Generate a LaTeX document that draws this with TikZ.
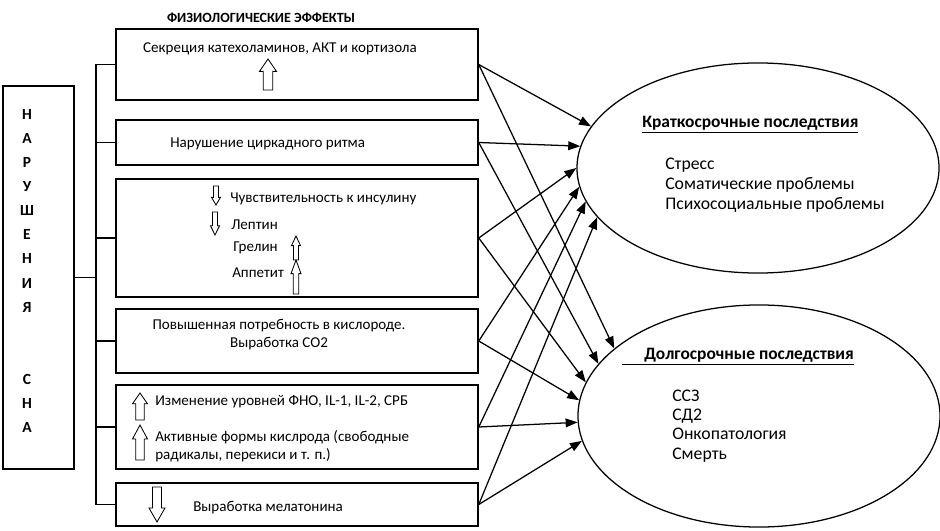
\documentclass[tikz,border=0pt]{standalone}
\usepackage{fontspec}
\setmainfont{Carlito}
\usetikzlibrary{arrows.meta, positioning, shapes.geometric}
\tikzset{
	effbox/.style={draw, line width=1pt, minimum width=9.05cm, inner sep=0pt},
	sleepbox/.style={draw, line width=1.3pt, minimum width=1.775cm,
		minimum height=9.575cm, inner sep=0pt},
	outcome/.style={draw, ellipse, line width=0.9pt, minimum width=9.05cm, inner sep=0pt},
	txt/.style={inner sep=0pt, font=\fontsize{10.7}{12.8}\selectfont},
	big/.style={inner sep=0pt, align=left, font=\fontsize{12.6}{14.2}\selectfont},
	arr/.style={-{Triangle[length=3mm, width=2.2mm]}, line width=0.9pt},
	link/.style={line width=1pt},
	hollow/.pic={\draw[line width=0.6pt] (-0.28,0) -- (-0.28,0.6) -- (-0.5,0.6) -- (0,1)
		-- (0.5,0.6) -- (0.28,0.6) -- (0.28,0) -- cycle;},
}
\begin{document}
\begin{tikzpicture}[x=0.025cm, y=-0.025cm]
	\useasboundingbox (0,0) rectangle (940,531);
	% sleep box
	\node[sleepbox] (sleep) at (38.5,277.5) {};
	\node[align=center, inner sep=0pt, font=\fontsize{11}{17.1}\selectfont\bfseries] (letters) at (27,271)
		{Н\\А\\Р\\У\\Ш\\Е\\Н\\И\\Я\\\mbox{}\\\mbox{}\\С\\Н\\А};
	% effects
	\node[font=\fontsize{10}{12}\selectfont\bfseries, inner sep=0pt] (title) at (261,18) {ФИЗИОЛОГИЧЕСКИЕ ЭФФЕКТЫ};
	\node[effbox, minimum height=1.775cm] (e1) at (297,64.5) {};
	\node[effbox, minimum height=1.125cm] (e2) at (297,142.5) {};
	\node[effbox, minimum height=2.95cm] (e3) at (297,238) {};
	\node[effbox, minimum height=1.6cm] (e4) at (297,341) {};
	\node[effbox, minimum height=2.1cm] (e5) at (297,427) {};
	\node[effbox, minimum height=1.075cm] (e6) at (297,504.5) {};
	\coordinate (bus) at (96,0);
	\draw[link] (sleep.east) -- (sleep.east -| bus);
	\draw[link] (e1.west -| bus) -- (e6.west -| bus);
	\foreach \b in {e1,e2,e3,e4,e5,e6}
		\draw[link] (\b.west -| bus) -- (\b.west);

	\node[txt] (t1) at (280,49) {Секреция катехоламинов, АКТ и кортизола};
	\pic at (268,90) [xscale=17, yscale=-31] {hollow};
	\node[txt, anchor=west] (t2) at (170,144) {Нарушение циркадного ритма};
	\node[txt, anchor=west] (t3a) at (230,199) {Чувствительность к инсулину};
	\node[txt, anchor=west] (t3b) at (231,225) {Лептин};
	\node[txt, anchor=west] (t3c) at (233,248) {Грелин};
	\node[txt, anchor=west] (t3d) at (232,273) {Аппетит};
	\pic at (216,186) [xscale=9, yscale=19] {hollow};
	\pic at (215,212) [xscale=9, yscale=23] {hollow};
	\pic at (296,260) [xscale=9, yscale=-24] {hollow};
	\pic at (296,294) [xscale=10, yscale=-34] {hollow};
	\node[txt, align=center] (t4) at (279,335) {Повышенная потребность в кислороде.\\Выработка CO2};
	\node[txt, anchor=west] (t5a) at (155,402) {Изменение уровней ФНО, IL-1, IL-2, СРБ};
	\node[txt, anchor=west, align=left] (t5b) at (155,446)
		{Активные формы кислрода (свободные\\радикалы, перекиси и т. п.)};
	\pic at (140,420) [xscale=15, yscale=-27] {hollow};
	\pic at (140,460) [xscale=15, yscale=-35] {hollow};
	\node[txt, anchor=west] (t6) at (193,508) {Выработка мелатонина};
	\pic at (157,487) [xscale=16, yscale=35] {hollow};

	% outcomes
	\node[outcome, minimum height=5.25cm] (short) at (758,168) {};
	\node[outcome, minimum height=5.55cm] (long) at (759,416) {};
	\node[big, anchor=west, font=\fontsize{12.4}{14.2}\selectfont\bfseries] (sh) at (642,125)
		{\underline{Краткосрочные последствия}};
	\node[big, anchor=west] (shl) at (665,185) {Стресс\\Соматические проблемы\\Психосоциальные проблемы};
	\node[big, anchor=west, font=\fontsize{12.4}{14.2}\selectfont\bfseries] (lh) at (622,357)
		{\underline{\hspace*{0.55cm}Долгосрочные последствия}};
	\node[big, anchor=west, font=\fontsize{12.6}{13.6}\selectfont] (lhl) at (672,426) {ССЗ\\СД2\\Онкопатология\\Смерть};

	\foreach \b/\ta/\tb in {e1/166/155, e2/173/162, e3/180/169, e4/186/175, e5/191/182, e6/197/188} {
		\draw[arr] (\b.east) -- (short.\ta);
		\draw[arr] (\b.east) -- (long.\tb);
	}
\end{tikzpicture}
\end{document}
